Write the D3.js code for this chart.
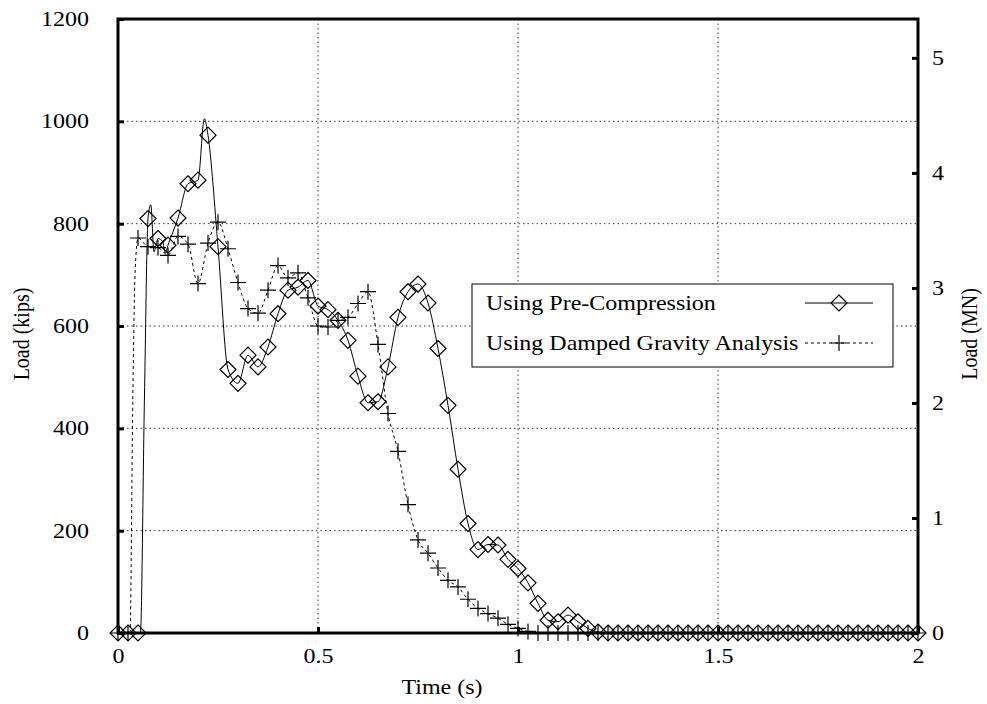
<!DOCTYPE html>
<html>
<head>
<meta charset="utf-8">
<script src="https://cdn.jsdelivr.net/npm/d3@7"></script>
<style>
  body { margin: 0; background: #fff; }
  text { font-family: "Liberation Serif", "Times New Roman", serif; fill: #000; }
</style>
</head>
<body>
<script>
// sample spacing of both runs (s)
const step = 0.025;

// load in kips, one value per sample (0, 0.025, 0.05 ...)
const preLoad = [0, 0, 0, 810, 771, 758, 811, 878, 885, 973,
  755, 515, 488, 543, 520, 559, 624, 670, 676, 689,
  639, 632, 611, 572, 502, 450, 452, 520, 617, 667,
  682, 645, 556, 445, 320, 214, 163, 173, 172, 144,
  126, 98, 58, 25, 22, 35, 22, 9, 2, 0,
  0, 0, 0, 0, 0, 0, 0, 0, 0, 0,
  0, 0, 0, 0, 0, 0, 0, 0, 0, 0,
  0, 0, 0, 0, 0, 0, 0, 0, 0, 0, 0];

const dampLoad = [0, 0, 772, 755, 753, 738, 775, 760, 683, 762,
  803, 751, 685, 634, 625, 670, 718, 694, 704, 655,
  600, 598, 611, 617, 644, 667, 564, 429, 355, 251,
  182, 156, 127, 103, 90, 66, 48, 38, 29, 17,
  9, 3, 0, 0, 0, 0, 0, 0, 0, 0,
  0, 0, 0, 0, 0, 0, 0, 0, 0, 0,
  0, 0, 0, 0, 0, 0, 0, 0, 0, 0,
  0, 0, 0, 0, 0, 0, 0, 0, 0, 0, 0];

// extra points of the solid / dashed curves between markers [t, kips]
const preDetail = [[0.056, 0], [0.066, 455], [0.082, 837], [0.09, 745],
  [0.112, 765], [0.118, 742], [0.216, 1005]];
const dampDetail = [[0.03, 0], [0.037, 455], [0.0425, 700]];

const xTicks = [0, 0.5, 1, 1.5, 2];
const yTicks = [0, 200, 400, 600, 800, 1000, 1200];
const mnTicks = [0, 1, 2, 3, 4, 5];
const kipsPerMN = 224.809;

const seriesNames = ["Using Pre-Compression", "Using Damped Gravity Analysis"];

init();

function init() {
  let width = 987, height = 704,
      m = {l: 118, r: 918, t: 19, b: 633},
      fs = 20,
      sx = 1.2;   // the original lettering is a bit wide

  let svg = d3.select("body").append("svg")
              .attr("width", width)
              .attr("height", height);

  let x = d3.scaleLinear().domain([0, 2]).range([m.l, m.r]);
  let y = d3.scaleLinear().domain([0, 1200]).range([m.b, m.t]);
  let yR = d3.scaleLinear().domain([0, 1200 / kipsPerMN]).range([m.b, m.t]);

  // grid
  let grid = svg.append("g")
                .attr("stroke", "#333")
                .attr("stroke-width", 1)
                .attr("stroke-dasharray", "1.5,3");
  grid.selectAll(".gx").data(xTicks.slice(1, -1)).enter()
      .append("line")
      .attr("x1", d => x(d)).attr("x2", d => x(d))
      .attr("y1", m.t).attr("y2", m.b);
  grid.selectAll(".gy").data(yTicks.slice(1, -1)).enter()
      .append("line")
      .attr("x1", m.l).attr("x2", m.r)
      .attr("y1", d => y(d)).attr("y2", d => y(d));

  // axes (ticks inside)
  let axL = d3.axisLeft(y).tickValues(yTicks).tickSizeInner(-6).tickSizeOuter(0)
              .tickFormat(d3.format("d")).tickPadding(29);
  let axR = d3.axisRight(yR).tickValues(mnTicks).tickSizeInner(-6).tickSizeOuter(0)
              .tickFormat(d3.format("d")).tickPadding(14);
  let axB = d3.axisBottom(x).tickValues(xTicks).tickSizeInner(-6).tickSizeOuter(0)
              .tickFormat(d => d).tickPadding(16);

  [[axL, `translate(${m.l},0)`], [axR, `translate(${m.r},0)`], [axB, `translate(0,${m.b})`]]
    .forEach(([ax, tr]) => {
      let g = svg.append("g").attr("transform", tr).call(ax);
      g.select(".domain").remove();
      g.selectAll(".tick line").attr("stroke", "#000").attr("stroke-width", 3);
      g.selectAll("text")
       .style("font-size", fs + "px").attr("font-family", null)
       .attr("transform", function() {
         let tx = +d3.select(this).attr("x") || 0;
         return `translate(${tx},0) scale(${sx},1) translate(${-tx},0)`;
       });
    });

  // frame
  svg.append("rect")
     .attr("x", m.l).attr("y", m.t)
     .attr("width", m.r - m.l).attr("height", m.b - m.t)
     .attr("fill", "none").attr("stroke", "#000").attr("stroke-width", 3);

  // axis titles
  svg.append("text").attr("transform", `translate(442,694) scale(${sx},1)`)
     .attr("text-anchor", "middle").style("font-size", fs + "px").text("Time (s)");
  svg.append("text").attr("transform", `translate(29,334) scale(${sx},1) rotate(-90)`)
     .attr("text-anchor", "middle").style("font-size", fs + "px").text("Load (kips)");
  svg.append("text").attr("transform", `translate(977,334) scale(${sx},1) rotate(-90)`)
     .attr("text-anchor", "middle").style("font-size", fs + "px").text("Load (MN)");

  let prePts = preLoad.map((v, i) => [i * step, v]);
  let dampPts = dampLoad.map((v, i) => [i * step, v]);

  let line = d3.line()
               .x(d => x(d[0])).y(d => y(d[1]))
               .curve(d3.curveMonotoneX);

  let merge = (a, b) => a.concat(b).sort((p, q) => p[0] - q[0]);

  svg.append("path").datum(merge(dampPts, dampDetail))
     .attr("d", line).attr("fill", "none")
     .attr("stroke", "#000").attr("stroke-width", 1).attr("stroke-dasharray", "3,3");
  svg.append("path").datum(merge(prePts, preDetail))
     .attr("d", line).attr("fill", "none")
     .attr("stroke", "#000").attr("stroke-width", 1);

  let diamond = "M0,-8L8,0L0,8L-8,0Z";
  let plus = "M-8,0H8M0,-8V8";

  svg.append("g").selectAll("path").data(dampPts).enter()
     .append("path")
     .attr("transform", d => `translate(${x(d[0])},${y(d[1])})`)
     .attr("d", plus).attr("stroke", "#000").attr("stroke-width", 1.2).attr("fill", "none");
  svg.append("g").selectAll("path").data(prePts).enter()
     .append("path")
     .attr("transform", d => `translate(${x(d[0])},${y(d[1])})`)
     .attr("d", diamond).attr("stroke", "#000").attr("stroke-width", 1.2).attr("fill", "none");

  // legend
  let lg = svg.append("g");
  lg.append("rect")
    .attr("x", 472).attr("y", 284).attr("width", 421).attr("height", 83)
    .attr("fill", "#fff").attr("stroke", "#000").attr("stroke-width", 1);
  let rows = [{name: seriesNames[0], y: 303, dash: null, mark: diamond},
              {name: seriesNames[1], y: 343, dash: "3,3", mark: plus}];
  rows.forEach(r => {
    lg.append("text").attr("transform", `translate(486,${r.y}) scale(${sx},1)`)
      .attr("dy", "0.35em").style("font-size", fs + "px").text(r.name);
    lg.append("line").attr("x1", 805).attr("x2", 873).attr("y1", r.y).attr("y2", r.y)
      .attr("stroke", "#000").attr("stroke-width", 1).attr("stroke-dasharray", r.dash);
    lg.append("path").attr("transform", `translate(839,${r.y})`)
      .attr("d", r.mark).attr("stroke", "#000").attr("stroke-width", 1.2).attr("fill", "none");
  });
}
</script>
</body>
</html>
